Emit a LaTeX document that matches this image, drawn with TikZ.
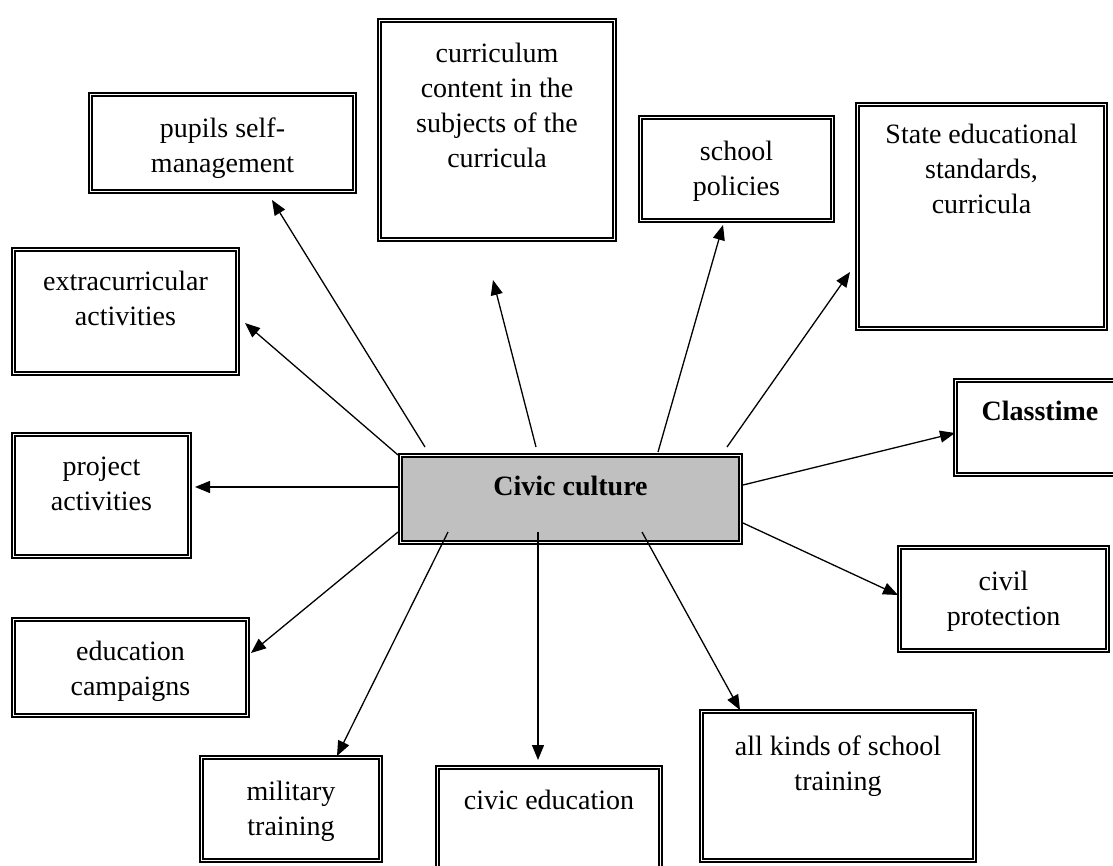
\documentclass[tikz,border=0pt]{standalone}
\usepackage{fontspec}
\setmainfont{Liberation Serif}
\usetikzlibrary{arrows.meta}
\definecolor{boxgray}{HTML}{C0C0C0}
\newcommand{\mybox}[6][box]{%
  \pgfmathsetmacro\bw{#5-#3-5.4}%
  \pgfmathsetmacro\bh{#6-#4-5.4}%
  \node[#1, minimum width=\bw pt, minimum height=\bh pt] (#2) at ({(#3+#5)/2},{(#4+#6)/2}) {};}
\begin{document}
\begin{tikzpicture}[x=1pt,y=-1pt,
  box/.style={draw=black, double=white, line width=2pt, double distance=1.4pt, fill=white, inner sep=0pt},
  centrebox/.style={box, fill=boxgray},
  txt/.style={font=\fontsize{28}{35}\selectfont, align=center, inner sep=0pt, anchor=base},
  boldtxt/.style={txt, font=\fontsize{28}{35}\selectfont\bfseries},
  link/.style={line width=1.3pt, -{Triangle[length=15pt,width=12pt]}}]
\useasboundingbox (0,0) rectangle (1113,866);
\fill[white] (0,0) rectangle (1113,866);

% boxes
\mybox{pupils}{88}{92}{357}{194}
\mybox{curr}{377}{18}{617}{242}
\mybox{policy}{638}{115}{835}{223}
\mybox{state}{855}{102}{1108}{331}
\mybox{extra}{11}{247}{240}{376}
\mybox{classt}{953}{378}{1127}{477}
\mybox{project}{11}{432}{192}{559}
\mybox[centrebox]{civic}{398}{453}{743}{545}
\mybox{civil}{897}{545}{1110}{653}
\mybox{campaign}{11}{617}{250}{718}
\mybox{military}{199}{755}{383}{863}
\mybox{civiced}{435}{765}{663}{885}
\mybox{kinds}{699}{709}{977}{863}

% texts (anchor = baseline of the last line)
\node[txt] (pupilsT) at (222.5,173) {pupils self-\\management};
\node[txt] (currT) at (497,168) {curriculum\\content in the\\subjects of the\\curricula};
\node[txt] (policyT) at (736.5,196) {school\\policies};
\node[txt] (stateT) at (981.5,214) {State educational\\standards,\\curricula};
\node[txt] (extraT) at (125.5,326) {extracurricular\\activities};
\node[boldtxt] (classtT) at (1040,420) {Classtime};
\node[txt] (projectT) at (101.5,510) {project\\activities};
\node[boldtxt] (civicT) at (570.5,495) {Civic culture};
\node[txt] (civilT) at (1003.5,625) {civil\\protection};
\node[txt] (campaignT) at (130.5,695) {education\\campaigns};
\node[txt] (militaryT) at (291,835) {military\\training};
\node[txt] (civicedT) at (549,809) {civic education};
\node[txt] (kindsT) at (838,790) {all kinds of school\\training};

% arrow end points
\coordinate (s1) at (425,447);  \coordinate (e1) at (272,200);
\coordinate (s2) at (536,447);  \coordinate (e2) at (493,280);
\coordinate (s3) at (658,452);  \coordinate (e3) at (723,225);
\coordinate (s4) at (727,447);  \coordinate (e4) at (850,272);
\coordinate (s5) at (398,455);  \coordinate (e5) at (245,323);
\coordinate (s6) at (398,487);  \coordinate (e6) at (195,487);
\coordinate (s7) at (743,485);  \coordinate (e7) at (955,433);
\coordinate (s8) at (743,523);  \coordinate (e8) at (898,595);
\coordinate (s9) at (398,532);  \coordinate (e9) at (251,653);
\coordinate (s10) at (448,532); \coordinate (e10) at (337,756);
\coordinate (s11) at (538,532); \coordinate (e11) at (538,760);
\coordinate (s12) at (642,532); \coordinate (e12) at (740,710);

\foreach \i in {1,...,12} \draw[link] (s\i) -- (e\i);
\end{tikzpicture}
\end{document}
